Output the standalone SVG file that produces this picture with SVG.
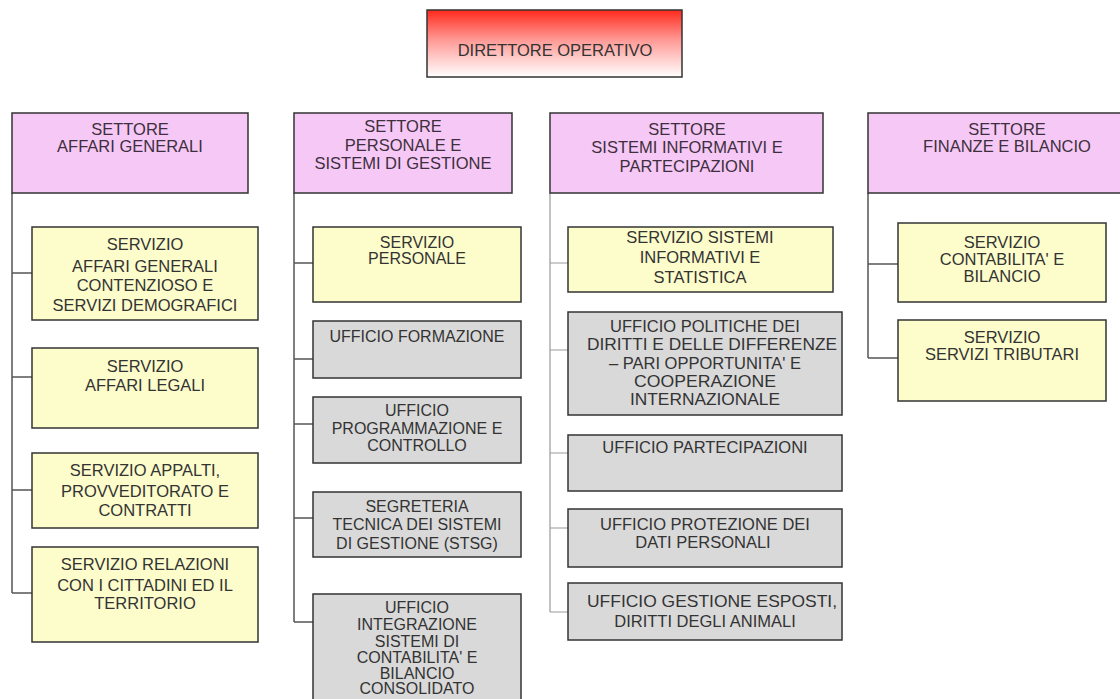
<svg xmlns="http://www.w3.org/2000/svg" width="1120" height="699" viewBox="0 0 1120 699">
  <defs>
    <linearGradient id="dirGrad" x1="0" y1="0" x2="0" y2="1">
      <stop offset="0" stop-color="#ff2a1c"/>
      <stop offset="0.45" stop-color="#ff9a96"/>
      <stop offset="1" stop-color="#ffffff"/>
    </linearGradient>
    <style>
      .box { stroke: #333; stroke-width: 1.5; }
      .dir { fill: url(#dirGrad); }
      .settore { fill: #f6c8f6; }
      .servizio { fill: #fdfccb; }
      .ufficio { fill: #d9d9d9; }
      .conn { fill: none; stroke: #555; stroke-width: 1.5; }
      .conn.light { stroke: #9a9a9a; stroke-width: 1.2; }
      text { font-family: "Liberation Sans", Arial, sans-serif; font-size: 16.5px; fill: #333; text-anchor: middle; }
      .small text { font-size: 16px; }
      .hdr text { fill: #3d2f3d; }
    </style>
  </defs>

  <rect width="1120" height="699" fill="#ffffff"/>

  <!-- connectors -->
  <g id="connectors">
    <!-- Affari Generali -->
    <path class="conn" d="M12 193 V593 M12 273 H32 M12 377 H32 M12 490 H32 M12 593 H32"/>
    <!-- Personale e Sistemi di Gestione -->
    <path class="conn" d="M294 193 V622 M294 263 H313 M294 359 H313 M294 424 H313 M294 518 H313 M294 622 H313"/>
    <!-- Sistemi Informativi e Partecipazioni -->
    <path class="conn light" d="M550 193 V612 M550 263 H568 M550 350 H568 M550 453 H568 M550 528 H568 M550 612 H568"/>
    <!-- Finanze e Bilancio -->
    <path class="conn" d="M868 193 V358 M868 264 H898 M868 358 H898"/>
  </g>

  <!-- top -->
  <g id="direttore-operativo">
    <rect class="box dir" x="427" y="10" width="255" height="67"/>
    <text x="555" y="56">DIRETTORE OPERATIVO</text>
  </g>

  <!-- column headers -->
  <g id="settore-affari-generali" class="hdr">
    <rect class="box settore" x="12" y="113" width="236" height="80"/>
    <text x="130" y="135">SETTORE</text>
    <text x="130" y="152">AFFARI GENERALI</text>
  </g>
  <g id="settore-personale" class="hdr">
    <rect class="box settore" x="294" y="113" width="218" height="80"/>
    <text x="403" y="132">SETTORE</text>
    <text x="403" y="150.5">PERSONALE E</text>
    <text x="403" y="169">SISTEMI DI GESTIONE</text>
  </g>
  <g id="settore-sistemi-informativi" class="hdr">
    <rect class="box settore" x="550" y="113" width="273" height="80"/>
    <text x="687" y="135">SETTORE</text>
    <text x="687" y="153">SISTEMI INFORMATIVI E</text>
    <text x="687" y="171.5">PARTECIPAZIONI</text>
  </g>
  <g id="settore-finanze" class="hdr">
    <rect class="box settore" x="868" y="113" width="280" height="80"/>
    <text x="1007" y="135">SETTORE</text>
    <text x="1007" y="151.5">FINANZE E BILANCIO</text>
  </g>

  <!-- Affari Generali -->
  <g id="servizio-affari-generali">
    <rect class="box servizio" x="32" y="227" width="226" height="93"/>
    <text x="145" y="250">SERVIZIO</text>
    <text x="145" y="271.5">AFFARI GENERALI</text>
    <text x="145" y="291">CONTENZIOSO E</text>
    <text x="145" y="310.5">SERVIZI DEMOGRAFICI</text>
  </g>
  <g id="servizio-affari-legali">
    <rect class="box servizio" x="32" y="348" width="226" height="80"/>
    <text x="145" y="371.5">SERVIZIO</text>
    <text x="145" y="390.5">AFFARI LEGALI</text>
  </g>
  <g id="servizio-appalti">
    <rect class="box servizio" x="32" y="453" width="226" height="75"/>
    <text x="145" y="475.5">SERVIZIO APPALTI,</text>
    <text x="145" y="497">PROVVEDITORATO E</text>
    <text x="145" y="515.5">CONTRATTI</text>
  </g>
  <g id="servizio-relazioni">
    <rect class="box servizio" x="32" y="547" width="226" height="95"/>
    <text x="145" y="569.5">SERVIZIO RELAZIONI</text>
    <text x="145" y="590.5">CON I CITTADINI ED IL</text>
    <text x="145" y="609">TERRITORIO</text>
  </g>

  <!-- Personale e Sistemi di Gestione -->
  <g id="servizio-personale" class="small">
    <rect class="box servizio" x="313" y="227" width="208" height="75"/>
    <text x="417" y="247.5">SERVIZIO</text>
    <text x="417" y="264">PERSONALE</text>
  </g>
  <g id="ufficio-formazione" class="small">
    <rect class="box ufficio" x="313" y="321" width="208" height="57"/>
    <text x="417" y="341.5">UFFICIO FORMAZIONE</text>
  </g>
  <g id="ufficio-programmazione" class="small">
    <rect class="box ufficio" x="313" y="397" width="208" height="66"/>
    <text x="417" y="415.5">UFFICIO</text>
    <text x="417" y="433.5">PROGRAMMAZIONE E</text>
    <text x="417" y="450.5">CONTROLLO</text>
  </g>
  <g id="segreteria-tecnica" class="small">
    <rect class="box ufficio" x="313" y="492" width="208" height="65"/>
    <text x="417" y="511.5">SEGRETERIA</text>
    <text x="417" y="530">TECNICA DEI SISTEMI</text>
    <text x="417" y="549">DI GESTIONE (STSG)</text>
  </g>
  <g id="ufficio-integrazione" class="small">
    <rect class="box ufficio" x="313" y="594" width="208" height="112"/>
    <text x="417" y="613">UFFICIO</text>
    <text x="417" y="630">INTEGRAZIONE</text>
    <text x="417" y="646.5">SISTEMI DI</text>
    <text x="417" y="663">CONTABILITA' E</text>
    <text x="417" y="678.5">BILANCIO</text>
    <text x="417" y="694">CONSOLIDATO</text>
  </g>

  <!-- Sistemi Informativi e Partecipazioni -->
  <g id="servizio-sistemi-informativi">
    <rect class="box servizio" x="568" y="227" width="265" height="65"/>
    <text x="700" y="243">SERVIZIO SISTEMI</text>
    <text x="700" y="263">INFORMATIVI E</text>
    <text x="700" y="283">STATISTICA</text>
  </g>
  <g id="ufficio-politiche-diritti">
    <rect class="box ufficio" x="568" y="312" width="274" height="103"/>
    <text x="705" y="331.5">UFFICIO POLITICHE DEI</text>
    <text x="712" y="349.5" textLength="250" lengthAdjust="spacingAndGlyphs">DIRITTI E DELLE DIFFERENZE</text>
    <text x="705" y="368.5">– PARI OPPORTUNITA' E</text>
    <text x="705" y="387" textLength="142" lengthAdjust="spacingAndGlyphs">COOPERAZIONE</text>
    <text x="705" y="405" textLength="150" lengthAdjust="spacingAndGlyphs">INTERNAZIONALE</text>
  </g>
  <g id="ufficio-partecipazioni">
    <rect class="box ufficio" x="568" y="435" width="274" height="56"/>
    <text x="705" y="453">UFFICIO PARTECIPAZIONI</text>
  </g>
  <g id="ufficio-protezione-dati">
    <rect class="box ufficio" x="568" y="509" width="274" height="58"/>
    <text x="705" y="530">UFFICIO PROTEZIONE DEI</text>
    <text x="703" y="548">DATI PERSONALI</text>
  </g>
  <g id="ufficio-gestione-esposti">
    <rect class="box ufficio" x="568" y="583" width="274" height="57"/>
    <text x="712" y="606.5" textLength="250" lengthAdjust="spacingAndGlyphs">UFFICIO GESTIONE ESPOSTI,</text>
    <text x="705" y="626.5">DIRITTI DEGLI ANIMALI</text>
  </g>

  <!-- Finanze e Bilancio -->
  <g id="servizio-contabilita">
    <rect class="box servizio" x="898" y="223" width="208" height="79"/>
    <text x="1002" y="248">SERVIZIO</text>
    <text x="1002" y="265">CONTABILITA' E</text>
    <text x="1002" y="281.5">BILANCIO</text>
  </g>
  <g id="servizio-tributari">
    <rect class="box servizio" x="898" y="320" width="208" height="81"/>
    <text x="1002" y="343">SERVIZIO</text>
    <text x="1002" y="359.5">SERVIZI TRIBUTARI</text>
  </g>
</svg>
